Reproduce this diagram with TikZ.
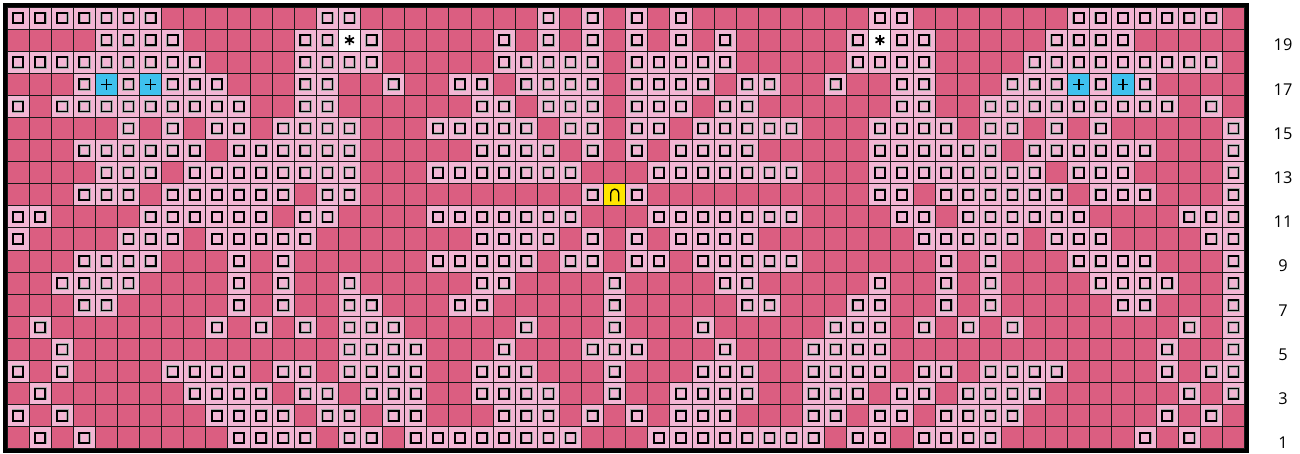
\documentclass[tikz,border=0pt]{standalone}
\usepackage{fontspec}
\setmainfont{Open Sans}
\usepackage{tikz}
\definecolor{ChartColorRed}{RGB}{219,94,129}
\definecolor{ChartColorPink}{RGB}{243,182,212}
\definecolor{ChartColorBlue}{RGB}{62,193,238}
\definecolor{ChartColorYellow}{RGB}{255,230,0}
\newlength\chartunit
\setlength\chartunit{5mm}

\begin{document}
\begin{tikzpicture}[x=1\chartunit,y=1\chartunit,
stitch/.style={rectangle,fill=#1,minimum width=1\chartunit,minimum height=1\chartunit,inner sep=0pt,outer sep=0pt},
purl/.style={stitch=ChartColorPink,path picture={
   \draw[black!35,line width=1.7pt] (path picture bounding box.center) +(-1.15mm,-1.15mm) rectangle +(1.15mm,1.15mm);
   \draw[line width=1.05pt] (path picture bounding box.center) +(-1.15mm,-1.15mm) rectangle +(1.15mm,1.15mm);}},
cross/.style={stitch=ChartColorBlue,path picture={
   \draw[line width=0.9pt] (path picture bounding box.center) +(-1.2mm,0) -- +(1.2mm,0) +(0,-1.2mm) -- +(0,1.2mm);}},
star/.style={stitch=white,path picture={
   \draw[line width=1.1pt] (path picture bounding box.center) +(90:1.15mm) -- +(270:1.15mm)
      +(30:1.15mm) -- +(210:1.15mm) +(150:1.15mm) -- +(330:1.15mm);}},
arch/.style={stitch=ChartColorYellow,path picture={
   \draw[line width=0.9pt] (path picture bounding box.center) ++(-0.9mm,-1.5mm) -- ++(0,1.9mm)
      arc[start angle=180,end angle=0,radius=0.9mm] -- ++(0,-1.9mm);}},
rowlabel/.style={font=\fontsize{10.5}{12}\selectfont,inner sep=0pt}]
\useasboundingbox (-0.317,-0.226) rectangle (58.51,20.317);
\fill[ChartColorRed] (0,0) rectangle (56,20);
\foreach \y/\l in %
{20/{1,2,3,4,5,6,7,15,16,25,27},
 19/{5,6,7,8,14,15,17,23,25,27},
 18/{1,2,3,4,5,6,7,8,9,14,15,16,17,23,24,25,26,27},
 17/{4,6,8,9,10,14,15,18,21,22,24,25,26,27},
 16/{1,3,4,5,6,7,8,9,10,11,14,15,22,23,25,26,27},
 15/{6,8,10,11,13,14,15,16,20,21,22,23,24,26,27},
 14/{4,5,6,7,8,9,11,12,13,14,15,16,22,23,24,25,27},
 13/{5,6,7,9,10,11,12,13,14,15,16,20,21,22,23,24,25,26},
 12/{4,5,6,8,9,10,11,12,13,15,16,27},
 11/{1,2,7,8,9,10,11,12,14,15,20,21,22,23,24,25,26},
 10/{1,6,7,8,10,11,12,13,14,22,23,24,25,27},
 9/{4,5,6,7,11,13,20,21,22,23,24,26,27},
 8/{3,4,5,6,11,13,16,22,23,28},
 7/{4,5,11,13,16,17,21,22,28},
 6/{2,10,12,14,16,17,18,24,28},
 5/{3,16,17,18,19,23,27,28},
 4/{1,3,8,9,10,11,13,14,16,17,18,19,22,23,24,28},
 3/{2,9,10,11,12,14,15,17,18,19,22,23,24,25,28},
 2/{1,3,10,11,12,13,15,16,18,19,23,24,25,27},
 1/{2,4,11,12,13,14,16,17,19,20,21,22,23,24,25,26}} {
   \foreach \x in \l {
      \node[purl] (p\x-\y) at (\x-0.5,\y-0.5) {};
      \pgfmathtruncatemacro\m{56-\x}
      \ifnum\x<28 \node[purl] (p\m-\y) at (\m-0.5,\y-0.5) {};\fi
   }
}
\foreach \y in {3,...,15} {
   \node[purl] (p56-\y) at (55.5,\y-0.5) {};
}
   \node[cross](b0) at(4.5,16.5) {};
   \node[cross](b1) at(6.5,16.5) {};
   \node[cross](b2) at(48.5,16.5) {};
   \node[cross](b3) at(50.5,16.5) {};
   \node[star](s0) at(15.5,18.5) {};
   \node[star](s1) at(39.5,18.5) {};
   \node[arch](u0) at(27.5,11.5) {};
\draw[black!90,line width=0.65pt,step=1\chartunit] (0,0) grid (56,20);
\draw[line width=2.6pt] (-0.09,-0.09) rectangle (56.09,20.09);
\foreach \y in {1,3,...,19} {
   \node[rowlabel] (r\y) at (57.74,\y-0.72) {\y};
}
\end{tikzpicture}
\end{document}
